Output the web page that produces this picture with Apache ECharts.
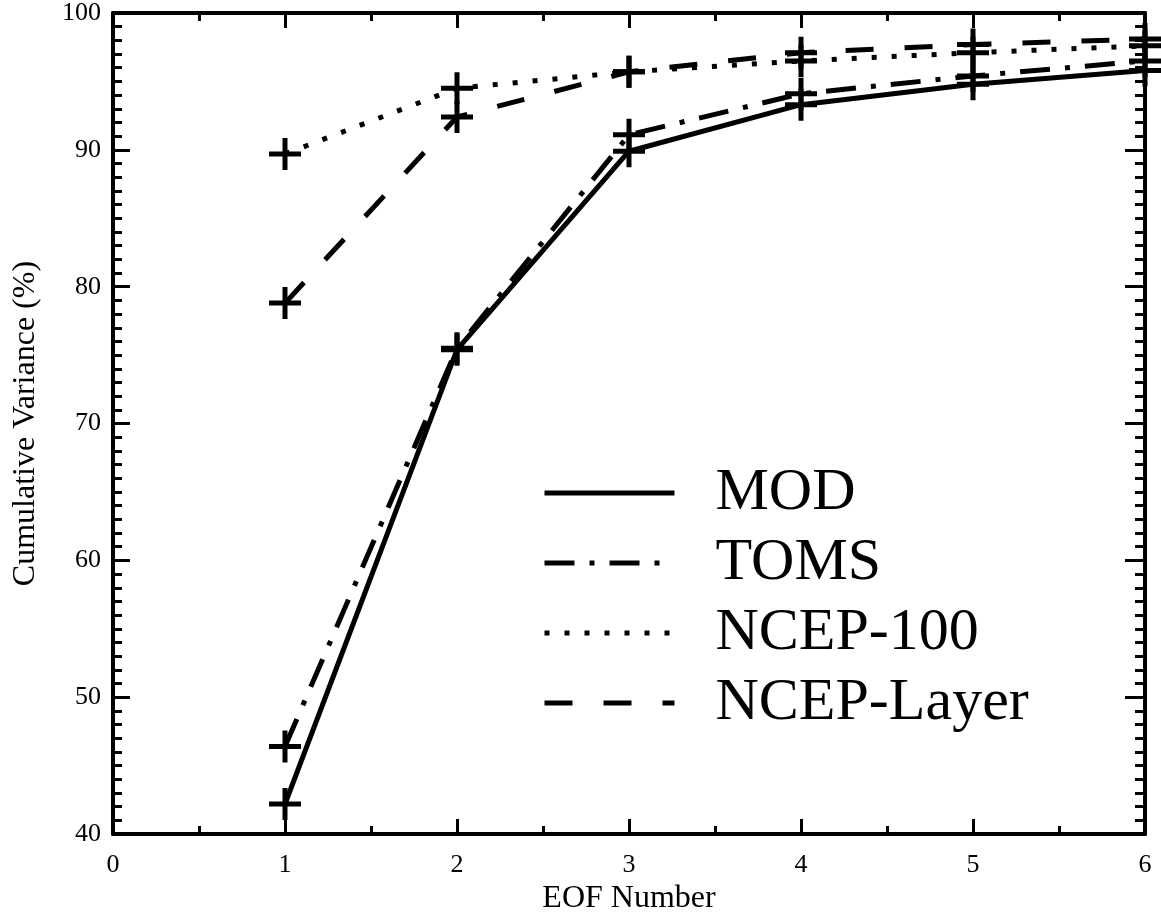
<!DOCTYPE html>
<html>
<head>
<meta charset="utf-8">
<script src="https://cdn.jsdelivr.net/npm/echarts@6/dist/echarts.min.js"></script>
<style>html,body{margin:0;padding:0;background:#fff;overflow:hidden}#c{width:1161px;height:920px}</style>
</head>
<body>
<div id="c"></div>
<script>
const eofNumbers = [1, 2, 3, 4, 5, 6];
const modValues = [42.2, 75.4, 89.9, 93.3, 94.8, 95.8];
const tomsValues = [46.4, 75.5, 91.1, 94.1, 95.4, 96.5];
const ncep100Values = [89.7, 94.5, 95.7, 96.5, 97.1, 97.6];
const ncepLayerValues = [78.8, 92.4, 95.7, 97.1, 97.7, 98.1];
const seriesNames = ['MOD', 'TOMS', 'NCEP-100', 'NCEP-Layer'];

const FONT = '"Liberation Serif", "DejaVu Serif", serif';
const PLUS = 'path://M0,13.5H13.5V0H18.5V13.5H32V18.5H18.5V32H13.5V18.5H0Z';

function pairs(vals) { return eofNumbers.map((x, i) => [x, vals[i]]); }

const dashes = ['solid', [30, 15, 5, 15], [5, 15], [28, 31]];
const valueSets = [modValues, tomsValues, ncep100Values, ncepLayerValues];

const axisCommon = {
  type: 'value',
  axisLine: { show: true, onZero: false, lineStyle: { color: '#000', width: 4 } },
  splitLine: { show: false },
  minorSplitLine: { show: false }
};

const chart = echarts.init(document.getElementById('c'), null, { renderer: 'canvas' });
chart.setOption({
  animation: false,
  backgroundColor: '#fff',
  grid: { left: 113, right: 16, top: 11, bottom: 80, containLabel: false },
  xAxis: [
    Object.assign({}, axisCommon, {
      position: 'bottom', min: 0, max: 6, interval: 1,
      name: 'EOF Number', nameLocation: 'middle', nameGap: 44,
      nameTextStyle: { fontFamily: FONT, fontSize: 32, color: '#000' },
      axisTick: { show: true, inside: true, length: 15, lineStyle: { color: '#000', width: 3 } },
      minorTick: { show: true, splitNumber: 2, length: 8, lineStyle: { color: '#000', width: 3 } },
      axisLabel: { fontFamily: FONT, fontSize: 26, color: '#000', margin: 18 }
    }),
    Object.assign({}, axisCommon, {
      position: 'top', min: 0, max: 6, interval: 1,
      axisTick: { show: true, inside: true, length: 15, lineStyle: { color: '#000', width: 3 } },
      minorTick: { show: true, splitNumber: 2, length: 8, lineStyle: { color: '#000', width: 3 } },
      axisLabel: { show: false }
    })
  ],
  yAxis: [
    Object.assign({}, axisCommon, {
      position: 'left', min: 40, max: 100, interval: 10,
      name: 'Cumulative Variance (%)', nameLocation: 'middle', nameGap: 71,
      nameTextStyle: { fontFamily: FONT, fontSize: 32, color: '#000' },
      axisTick: { show: true, inside: true, length: 17, lineStyle: { color: '#000', width: 3 } },
      minorTick: { show: true, splitNumber: 10, length: 9, lineStyle: { color: '#000', width: 3 } },
      axisLabel: { fontFamily: FONT, fontSize: 26, color: '#000', margin: 12 }
    }),
    Object.assign({}, axisCommon, {
      position: 'right', min: 40, max: 100, interval: 10,
      axisTick: { show: true, inside: true, length: 20, lineStyle: { color: '#000', width: 3 } },
      minorTick: { show: true, splitNumber: 10, length: 10, lineStyle: { color: '#000', width: 3 } },
      axisLabel: { show: false }
    })
  ],
  legend: {
    show: true,
    orient: 'vertical',
    left: 542, top: 458,
    padding: 0,
    itemWidth: 130, itemHeight: 30, itemGap: 0,
    selectedMode: false,
    itemStyle: { opacity: 0 },
    lineStyle: { width: 5 },
    textStyle: { fontFamily: FONT, fontSize: 60, lineHeight: 46, color: '#000', padding: [0, 0, 24, 36] },
    data: seriesNames
  },
  series: seriesNames.map((name, i) => ({
    name: name,
    type: 'line',
    xAxisIndex: 0, yAxisIndex: 0,
    data: pairs(valueSets[i]),
    symbol: PLUS,
    symbolSize: 32,
    symbolKeepAspect: true,
    showSymbol: true,
    itemStyle: { color: '#000' },
    lineStyle: { color: '#000', width: 5, type: dashes[i], cap: 'butt' },
    z: 3
  }))
});
</script>
</body>
</html>
